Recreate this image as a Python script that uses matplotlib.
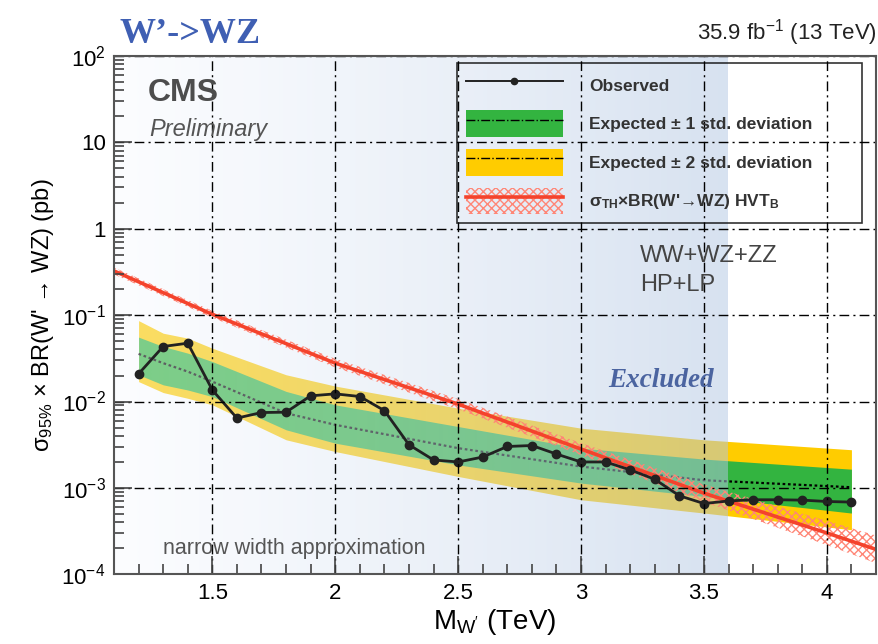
import matplotlib
matplotlib.use("Agg")
import matplotlib.pyplot as plt
import numpy as np
from matplotlib.lines import Line2D
from matplotlib.patches import Patch
from matplotlib.ticker import MultipleLocator, LogLocator, FixedLocator, FuncFormatter, NullFormatter

plt.rcParams['font.family'] = ['Liberation Sans', 'DejaVu Sans']
plt.rcParams['mathtext.fontset'] = 'custom'
plt.rcParams['mathtext.rm'] = 'Liberation Sans'
plt.rcParams['mathtext.it'] = 'Liberation Sans:italic'
plt.rcParams['mathtext.bf'] = 'Liberation Sans:bold'
plt.rcParams['mathtext.default'] = 'regular'
plt.rcParams['hatch.linewidth'] = 1.0

# observed limit (pb)
mass_obs = [1.2, 1.3, 1.4, 1.5, 1.6, 1.7, 1.8, 1.9, 2.0, 2.1, 2.2, 2.3, 2.4, 2.5, 2.6,
            2.7, 2.8, 2.9, 3.0, 3.1, 3.2, 3.3, 3.4, 3.5, 3.6, 3.7, 3.8, 3.9, 4.0, 4.1]
obs = [0.0209, 0.0433, 0.0473, 0.0136, 0.00643, 0.00746, 0.00753, 0.01164, 0.01227, 0.01143,
       0.00785, 0.00316, 0.00211, 0.00200, 0.00228, 0.00302, 0.00310, 0.00247, 0.00200, 0.00200,
       0.00162, 0.00126, 0.000813, 0.000661, 0.000708, 0.000731, 0.000731, 0.000724, 0.000698, 0.000687]

# expected limit and bands (pb)
mass_exp = [1.2, 1.3, 1.4, 1.5, 1.8, 2.0, 2.5, 3.0, 3.5, 4.1]
exp_median = [0.0356, 0.0278, 0.0222, 0.0170, 0.00733, 0.00538, 0.00289, 0.00177, 0.00123, 0.00102]
exp_1s_up = [0.0556, 0.0433, 0.0363, 0.0290, 0.0131, 0.00916, 0.00514, 0.00289, 0.00216, 0.00165]
exp_1s_dn = [0.0204, 0.0156, 0.0136, 0.0114, 0.00471, 0.00330, 0.00185, 0.00114, 0.000798, 0.000513]
exp_2s_up = [0.0863, 0.0617, 0.0541, 0.0414, 0.0204, 0.0151, 0.00838, 0.00492, 0.00361, 0.00277]
exp_2s_dn = [0.0170, 0.0127, 0.0109, 0.00916, 0.00361, 0.00264, 0.00136, 0.000731, 0.000513, 0.000329]

# theory HVT_B (pb)
mass_th = [1.1, 1.5, 2.0, 2.5, 3.0, 3.5, 4.0, 4.2]
theory = [0.324, 0.102, 0.0278, 0.00933, 0.00282, 0.000871, 0.000302, 0.000195]
theory_hi = [0.355, 0.112, 0.0312, 0.0107, 0.00331, 0.00110, 0.000417, 0.000282]
theory_lo = [0.295, 0.0933, 0.0248, 0.00813, 0.00240, 0.000692, 0.000219, 0.000135]

y_decades = [1e-4, 1e-3, 1e-2, 1e-1, 1, 10, 100]
excluded_limit = 3.6
xmin, xmax = 1.1, 4.2

fig = plt.figure(figsize=(8.79, 6.44), dpi=100)
ax = fig.add_axes([0.1297, 0.108, 0.8669, 0.8055])
ax.set_yscale('log')

yellow = '#ffcc00'
green = '#33b440'
red = '#f4432c'
hatch_red = '#ff8676'

ax.fill_between(mass_exp, exp_2s_dn, exp_2s_up, color=yellow, lw=0, zorder=1)
ax.fill_between(mass_exp, exp_1s_dn, exp_1s_up, color=green, lw=0, zorder=1.1)
ax.plot(mass_exp, exp_median, color='black', ls=(0, (1.2, 1.2)), lw=1.6, zorder=1.2)
ax.fill_between(mass_th, theory_lo, theory_hi, facecolor='none', edgecolor=hatch_red,
                hatch='xxxx', lw=0, zorder=3.3)
ax.plot(mass_th, theory, color=red, lw=2.6, zorder=3.4)
ax.plot(mass_obs, obs, color='#222222', lw=2.0, marker='o', ms=6, zorder=3.5)

# excluded region shading
ax.set_autoscale_on(False)
ax.set_xlim(xmin, xmax)
ax.set_ylim(y_decades[0], y_decades[-1])
t = np.linspace(0, 1, 256)
c0 = np.array([0.97, 0.98, 1.0])
c1 = np.array([0.70, 0.78, 0.89])
grad = np.zeros((1, 256, 4))
grad[0, :, :3] = c0 + (c1 - c0) * t[:, None]
grad[0, :, 3] = 0.38 + 0.14 * t
ax.imshow(grad, extent=[xmin, excluded_limit, 0, 1], transform=ax.get_xaxis_transform(),
          aspect='auto', zorder=3, interpolation='bilinear')
ax.set_xlim(xmin, xmax)
ax.set_ylim(y_decades[0], y_decades[-1])

# axes styling
ax.xaxis.set_major_locator(MultipleLocator(0.5))
ax.xaxis.set_minor_locator(MultipleLocator(0.1))
ax.xaxis.set_major_formatter(FuncFormatter(lambda v, p: ('%g' % v)))
ax.yaxis.set_major_locator(FixedLocator(y_decades))
ax.yaxis.set_minor_locator(LogLocator(base=10, subs=np.arange(2, 10), numticks=20))
ax.yaxis.set_minor_formatter(NullFormatter())


def yfmt(v, pos):
    e = int(round(np.log10(v)))
    if e == 0:
        return '1'
    if e == 1:
        return '10'
    return r'$10^{%d}$' % e


ax.yaxis.set_major_formatter(FuncFormatter(yfmt))
ax.tick_params(which='both', direction='in', top=False, right=False, labelsize=16,
               color='#444444', width=1.2)
ax.tick_params(which='major', length=13, pad=6)
ax.tick_params(which='minor', length=7)
ax.grid(True, which='major', color='black', ls=(0, (7, 3, 1.5, 3)), lw=1.0)
ax.xaxis.set_zorder(4)
ax.yaxis.set_zorder(4)
for s in ax.spines.values():
    s.set_color('#555555')
    s.set_linewidth(1.5)
    s.set_zorder(5)

ax.set_xlabel(r"M$_{W'}$ (TeV)", fontsize=20, labelpad=2)
ax.set_ylabel(r"σ$_{95\%}$ × BR(W' → WZ) (pb)", fontsize=17, labelpad=4)

# legend
h_obs = Line2D([], [], color='#222222', lw=1.4, marker='o', ms=4.5)
h_1s = (Patch(facecolor=green, lw=0), Line2D([], [], color='black', ls='-.', lw=1))
h_2s = (Patch(facecolor=yellow, lw=0), Line2D([], [], color='black', ls='-.', lw=1))
h_th = (Patch(facecolor='none', edgecolor=hatch_red, hatch='xxxx', lw=0),
        Line2D([], [], color=red, lw=2.6))
labels = ['Observed', 'Expected ± 1 std. deviation', 'Expected ± 2 std. deviation',
          r"σ$_{TH}$×BR(W'→WZ) HVT$_{B}$"]
leg = ax.legend([h_obs, h_1s, h_2s, h_th], labels, loc='upper left',
                bbox_to_anchor=(0.45, 0.679, 0.532, 0.307), mode='expand', borderaxespad=0,
                fancybox=False, handlelength=5.6, handleheight=2.0, labelspacing=0.68,
                handletextpad=1.5, borderpad=0.5, prop={'size': 12.5, 'weight': 'bold'})
leg.get_frame().set_edgecolor('black')
leg.get_frame().set_facecolor('none')
leg.get_frame().set_linewidth(1.2)
leg.set_zorder(10)
for txt in leg.get_texts():
    txt.set_color('#333333')

# text
fig.text(0.1365, 0.933, "W’->WZ", fontsize=26, fontweight='bold', color='#3f5fb3',
         family='Liberation Serif', va='baseline')
fig.text(0.9977, 0.938, r"35.9 fb$^{-1}$ (13 TeV)", fontsize=16, ha='right', va='baseline',
         color='#222222')
fig.text(0.168, 0.843, "CMS", fontsize=23, fontweight='bold', color='#4d4d4d', va='baseline',
         zorder=10)
fig.text(0.170, 0.789, "Preliminary", fontsize=17, style='italic', color='#555555',
         va='baseline', zorder=10)
fig.text(0.728, 0.593, "WW+WZ+ZZ", fontsize=17, color='#444444', va='baseline', zorder=10)
fig.text(0.728, 0.548, "HP+LP", fontsize=17, color='#444444', va='baseline', zorder=10)
fig.text(0.185, 0.140, "narrow width approximation", fontsize=15.5, color='#555555',
         va='baseline', zorder=10)
fig.text(0.692, 0.399, "Excluded", fontsize=19.5, color='#4b64a0', family='Liberation Serif',
         style='italic', fontweight='bold', va='baseline', zorder=10)

fig.savefig('out.png', dpi=100)
